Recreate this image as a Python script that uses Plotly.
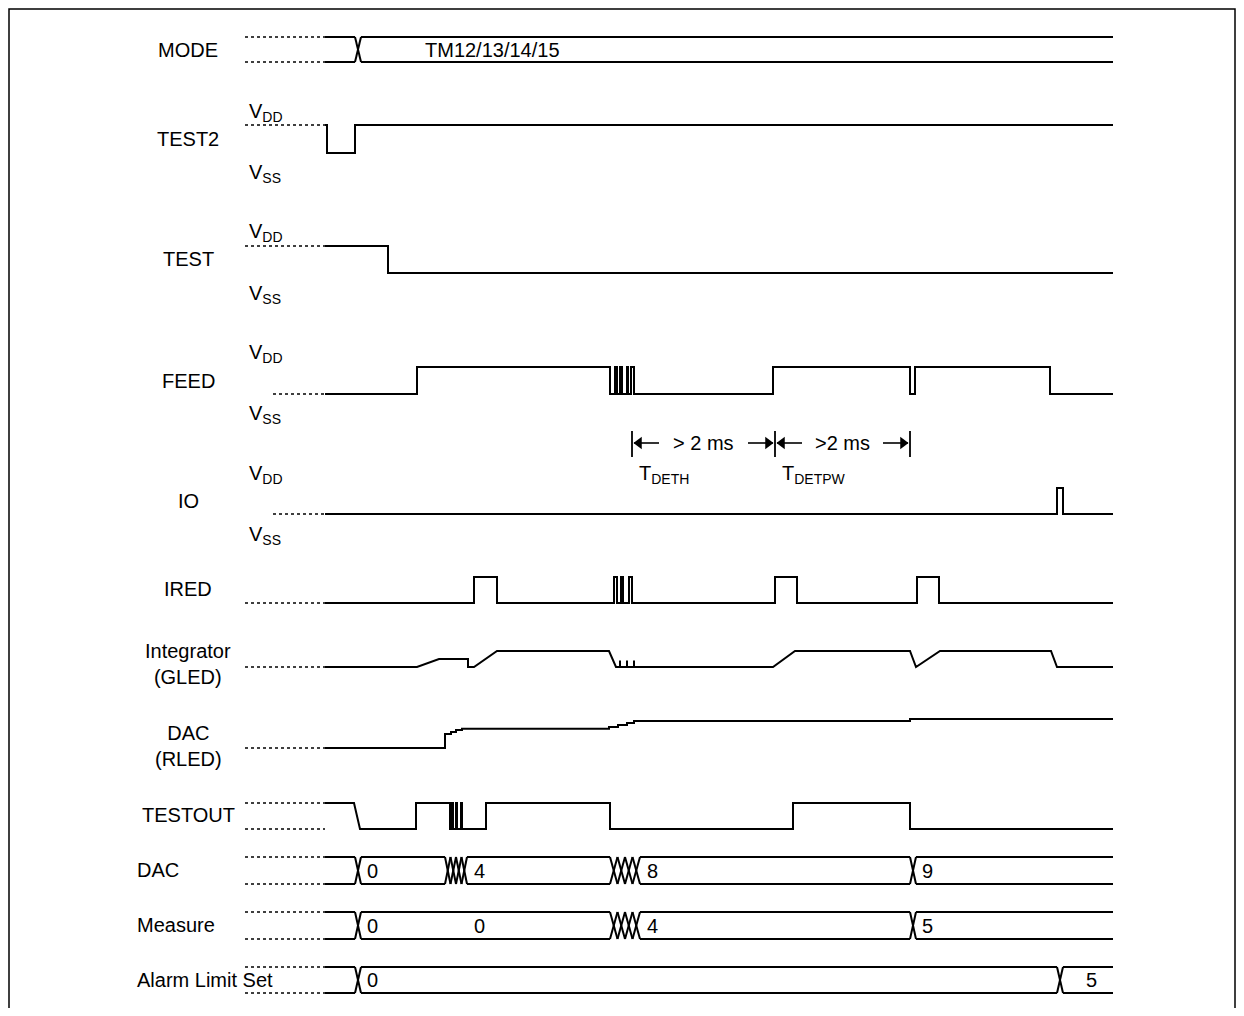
import plotly.graph_objects as go

# ---------------- data (time units along the diagram, levels 0=low 1=high) -------------
SIGNAL_NAMES = ["MODE", "TEST2", "TEST", "FEED", "IO", "IRED", "Integrator<br>(GLED)",
                "DAC<br>(RLED)", "TESTOUT"]
BUS_NAMES = ["DAC", "Measure", "Alarm Limit Set"]

T_START = 325
T_END = 1113

TEST2_T = [325, 327, 355, 1113]
TEST2_L = [1, 0, 1, 1]

TEST_T = [325, 388, 1113]
TEST_L = [1, 0, 0]

FEED_T = [325, 417, 610, 615, 617, 620, 622, 627, 628, 631, 634, 773, 910, 915, 1050, 1113]
FEED_L = [0, 1, 0, 1, 0, 1, 0, 1, 0, 1, 0, 1, 0, 1, 0, 0]

IO_T = [325, 1057, 1063, 1113]
IO_L = [0, 1, 0, 0]

IRED_T = [325, 474, 497, 614, 617, 621, 623, 629, 632, 775, 797, 917, 939, 1113]
IRED_L = [0, 1, 0, 1, 0, 1, 0, 1, 0, 1, 0, 1, 0, 0]

INTEG_T = [325, 417, 439, 468, 468, 474, 497, 609, 616, 620, 620, 620, 627, 627, 627,
           634, 634, 634, 773, 795, 910, 916, 940, 1051, 1057, 1113]
INTEG_L = [0, 0, 0.5, 0.5, 0, 0, 1, 1, 0, 0, 0.4, 0, 0, 0.4, 0,
           0, 0.4, 0, 0, 1, 1, 0, 1, 1, 0, 0]

RLED_T = [325, 445, 451, 456, 462, 609, 618, 627, 634, 910, 1113]
RLED_L = [0, 0.48, 0.55, 0.62, 0.66, 0.72, 0.79, 0.86, 0.93, 1.0, 1.0]

TESTOUT_T = [325, 354, 360, 416, 416, 450, 450, 452, 452, 453, 453, 456, 456, 457, 457,
             461, 461, 462, 462, 486, 486, 610, 610, 793, 793, 910, 910, 1113]
TESTOUT_L = [1, 1, 0, 0, 1, 1, 0, 0, 1, 1, 0, 0, 1, 1, 0,
             0, 1, 1, 0, 0, 1, 1, 0, 0, 1, 1, 0, 0]

# bus transitions: (start, end, number of crossings)
MODE_TR = [(355, 361, 1)]
MODE_TXT = [(492, "TM12/13/14/15")]
DAC_TR = [(355, 361, 1), (445, 467, 4), (610, 640, 4), (910, 916, 1)]
DAC_TXT = [(365, "0"), (472, "4"), (645, "8"), (920, "9")]
MEAS_TR = [(355, 361, 1), (610, 640, 4), (910, 916, 1)]
MEAS_TXT = [(365, "0"), (472, "0"), (645, "4"), (920, "5")]
ALARM_TR = [(355, 361, 1), (1057, 1063, 1)]
ALARM_TXT = [(365, "0"), (1084, "5")]

# timing markers
MARK_T = [632, 775, 910]
MARK_TXT = ["> 2 ms", ">2 ms"]
MARK_NAMES = ["T<sub>DETH</sub>", "T<sub>DETPW</sub>"]

# ---------------- layout constants ----------------
W, H = 1228, 1000
OX, OY = 8, 8
FONT = "Liberation Sans, Arial, sans-serif"
FS = 20
LW = 2

ROWS = {  # (high y, low y)
    "MODE": (37, 62), "TEST2": (125, 153), "TEST": (246, 273), "FEED": (367, 394),
    "IO": (488, 514), "IRED": (577, 603), "INTEG": (651, 667), "RLED": (719, 748),
    "TESTOUT": (803, 829), "DAC": (857, 884), "MEAS": (912, 939), "ALARM": (967, 993),
}
LABEL_Y = [50, 139, 259, 381, 501, 589, 664, 746, 815]
BUS_LABEL_Y = [870, 925, 980]

fig = go.Figure()


def line(xs, ys, dash=None, width=LW, shape="linear"):
    fig.add_trace(go.Scatter(x=xs, y=ys, mode="lines", hoverinfo="skip", showlegend=False,
                             line=dict(color="black", width=width, dash=dash, shape=shape)))


def text(x, y, t, anchor="left"):
    fig.add_annotation(x=x, y=y, text=t, showarrow=False, xanchor=anchor, yanchor="middle",
                       font=dict(family=FONT, size=FS, color="black"))


def ylev(row, lv):
    hi, lo = ROWS[row]
    return [lo - v * (lo - hi) for v in lv]


def dotted(row, lv, x0=245):
    y = ylev(row, [lv])[0]
    line([x0, T_START], [y, y], dash="dot", width=1.3)


def signal(row, ts, lv, shape, dot_levels, x0=245):
    for d in dot_levels:
        dotted(row, d, x0)
    line(ts, ylev(row, lv), shape=shape)


def bus(row, trans, texts, anchor="left"):
    hi, lo = ROWS[row]
    mid = (hi + lo) / 2
    dotted(row, 1)
    dotted(row, 0)
    xs, ys = [], []
    cur = T_START
    for a, b, n in trans:
        xs += [cur, a, None, cur, a, None]
        ys += [hi, hi, None, lo, lo, None]
        step = (b - a) / n
        for k in range(n):
            p, q = a + k * step, a + (k + 1) * step
            xs += [p, q, None, p, q, None]
            ys += [hi, lo, None, lo, hi, None]
        cur = b
    xs += [cur, T_END, None, cur, T_END]
    ys += [hi, hi, None, lo, lo]
    line(xs, ys)
    for x, t in texts:
        text(x, mid, t, anchor)


bus("MODE", MODE_TR, [])
for x, t in MODE_TXT:
    text(x, 50, t, "center")
signal("TEST2", TEST2_T, TEST2_L, "hv", [1])
signal("TEST", TEST_T, TEST_L, "hv", [1])
signal("FEED", FEED_T, FEED_L, "hv", [0], x0=273)
signal("IO", IO_T, IO_L, "hv", [0], x0=273)
signal("IRED", IRED_T, IRED_L, "hv", [0])
signal("INTEG", INTEG_T, INTEG_L, "linear", [0])
signal("RLED", RLED_T, RLED_L, "hv", [0])
signal("TESTOUT", TESTOUT_T, TESTOUT_L, "linear", [1, 0])
bus("DAC", DAC_TR, DAC_TXT)
bus("MEAS", MEAS_TR, MEAS_TXT)
bus("ALARM", ALARM_TR, ALARM_TXT)

# left labels
for name, y in zip(SIGNAL_NAMES, LABEL_Y):
    text(188, y, name, "center")
for name, y in zip(BUS_NAMES, BUS_LABEL_Y):
    text(135, y, name, "left")

# VDD / VSS markers
for vdd_y, vss_y in [(112, 173), (232, 294), (353, 414), (474, 535)]:
    text(247, vdd_y, "V<sub>DD</sub>")
    text(247, vss_y, "V<sub>SS</sub>")

# timing markers
ARR_Y = 443
xs, ys = [], []
for m in MARK_T:
    xs += [m, m, None]
    ys += [431, 457, None]
line(xs, ys, width=1.8)
ax, ay, lx, ly, rx, ry = [], [], [], [], [], []
for i in range(2):
    a, b = MARK_T[i], MARK_T[i + 1]
    ax += [a + 2, a + 27, None, b - 27, b - 2, None]
    ay += [ARR_Y, ARR_Y, None, ARR_Y, ARR_Y, None]
    lx.append(a + 7)
    ly.append(ARR_Y)
    rx.append(b - 7)
    ry.append(ARR_Y)
    text((a + b) / 2, ARR_Y, MARK_TXT[i], "center")
    text(a + 5, 474, MARK_NAMES[i], "left")
line(ax, ay, width=1.6)
fig.add_trace(go.Scatter(x=lx, y=ly, mode="markers", hoverinfo="skip", showlegend=False,
                         marker=dict(symbol="triangle-left", size=11, color="black",
                                     line=dict(width=0))))
fig.add_trace(go.Scatter(x=rx, y=ry, mode="markers", hoverinfo="skip", showlegend=False,
                         marker=dict(symbol="triangle-right", size=11, color="black",
                                     line=dict(width=0))))

# frame
line([9, 9, 1235, 1235], [1030, 9, 9, 1030], width=1.5)

fig.update_layout(
    width=W, height=H, margin=dict(l=0, r=0, t=0, b=0, pad=0),
    paper_bgcolor="white", plot_bgcolor="white",
    xaxis=dict(range=[OX, OX + W], visible=False, fixedrange=True),
    yaxis=dict(range=[OY + H, OY], visible=False, fixedrange=True),
)
fig.write_html("out.html")
